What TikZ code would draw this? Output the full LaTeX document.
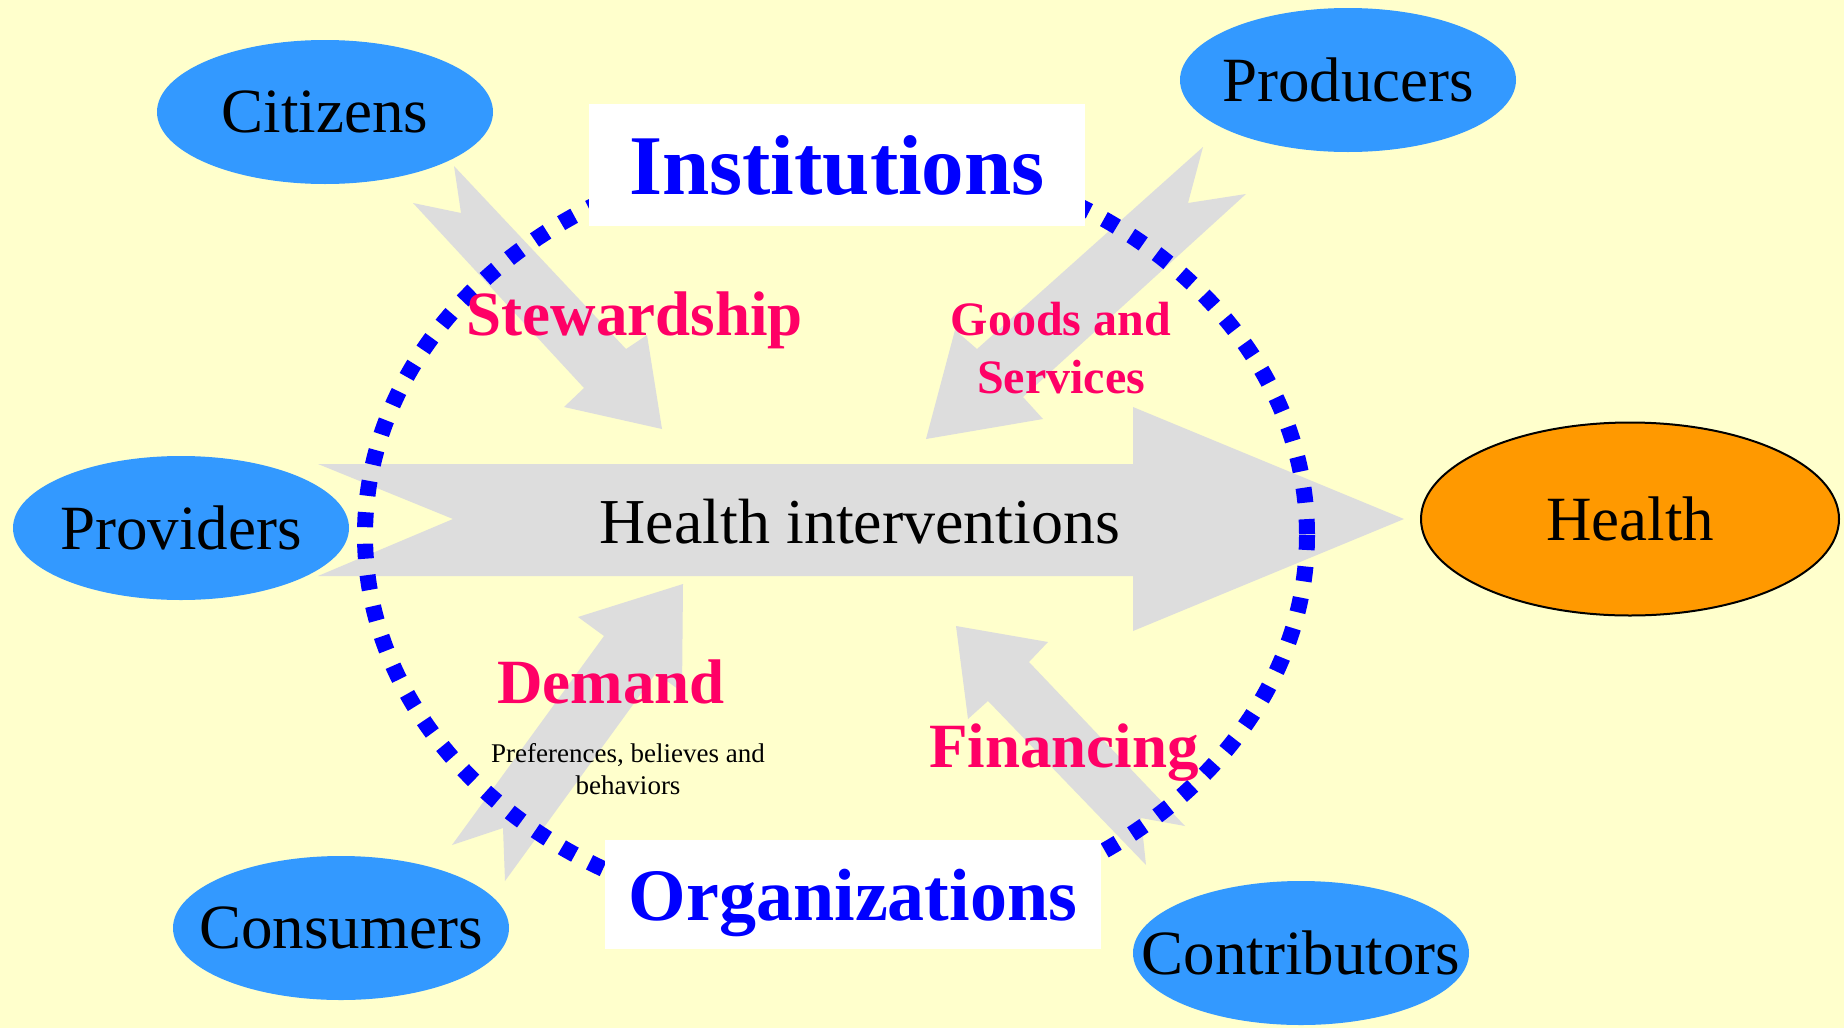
\documentclass[tikz,border=0pt]{standalone}
\usepackage{fontspec}
\setmainfont{Liberation Serif}
\usetikzlibrary{shapes.geometric}
\definecolor{paper}{HTML}{FFFFCC}
\definecolor{actorblue}{HTML}{3399FF}
\definecolor{healthorange}{HTML}{FF9900}
\definecolor{flowgrey}{HTML}{DDDDDD}
\definecolor{labelpink}{HTML}{FF0066}
\definecolor{ringblue}{HTML}{0000FF}
\newcommand{\overflow}[1]{\makebox[0pt]{#1}}

\begin{document}
\begin{tikzpicture}[x=1pt,y=-1pt]
    \tikzset{actor/.style={ellipse, fill=actorblue, inner sep=0pt, minimum width=336, minimum height=144,
            font=\fontsize{63}{70}\selectfont},
        realm/.style={fill=white, text=ringblue, inner sep=0pt, text depth=0pt,
            font=\bfseries\fontsize{#1}{#1}\selectfont},
        flow/.style={fill=flowgrey},
        flowlabel/.style={text=labelpink, align=center, font=\bfseries\fontsize{#1}{#1}\selectfont},
        flowlabel/.default={63}}
    %Hintergrund
    \fill[paper] (0,0) rectangle (1844,1028);
    \useasboundingbox (0,0) rectangle (1844,1028);

    %Ströme
    \fill[flow] (318,464) -- (1133,464) -- (1133,407) -- (1404,519) -- (1133,631)
        -- (1133,576) -- (318,576) -- (453,519) -- cycle;
    \fill[flow] (454,166) -- (626,349) -- (647,335) -- (662,429) -- (564,407)
        -- (584,388) -- (413,203) -- (461,213) -- cycle;
    \fill[flow] (1203,147) -- (977,349) -- (955,330) -- (926,439) -- (1043,419)
        -- (1023,397) -- (1246,194) -- (1188,203) -- cycle;
    \fill[flow] (683,584) -- (578,617) -- (604,636) -- (452,845) -- (503,828)
        -- (505,881) -- (656,673) -- (682,692) -- cycle;
    \fill[flow] (956,626) -- (1048,642) -- (1029,662) -- (1185,826) -- (1141,818)
        -- (1146,865) -- (988,701) -- (968,719) -- cycle;

    %Ring
    \draw[ringblue, line width=16pt, dash pattern=on 15pt off 16.5pt]
        (836,535) ellipse [x radius=471, y radius=384];

    %Kästen
    \node[realm=85, minimum width=496, minimum height=122] (institutions) at (837,165) {Institutions};
    \node[realm=74, minimum width=496, minimum height=109] (organizations) at (853,894.5) {Organizations};

    %Akteure
    \node[actor] (citizens)     at (325,112)  {\overflow{Citizens}};
    \node[actor] (producers)    at (1348,80)  {\overflow{Producers}};
    \node[actor] (providers)    at (181,528)  {\overflow{Providers}};
    \node[actor] (consumers)    at (341,928)  {\overflow{Consumers}};
    \node[actor] (contributors) at (1301,953) {\overflow{Contributors}};
    \node[actor, fill=healthorange, draw=black, line width=2pt,
        minimum width=418, minimum height=193] (health) at (1630,519) {Health};

    %Beschriftung
    \node[anchor=base, font=\fontsize{64}{64}\selectfont] (interventions) at (860,543) {Health interventions};
    \node[flowlabel, anchor=base]  (stewardship) at (635,335)  {Stewardship};
    \node[flowlabel=48]            (goods)       at (1061,348) {Goods and\\[10pt]Services};
    \node[flowlabel, anchor=base]  (demand)      at (611,703)  {Demand};
    \node[align=center, font=\fontsize{27}{32}\selectfont]
                                   (preferences) at (628,769)  {Preferences, believes and\\behaviors};
    \node[flowlabel, anchor=base]  (financing)   at (1064,767) {Financing};

\end{tikzpicture}
\end{document}
